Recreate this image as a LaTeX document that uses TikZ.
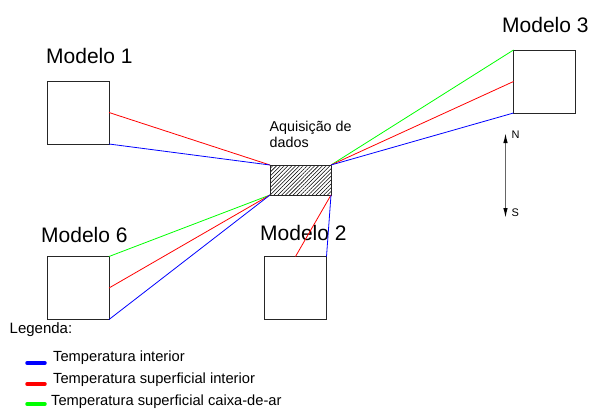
\documentclass[tikz,border=0pt]{standalone}
\usepackage{fontspec}
\setmainfont{Liberation Sans}
\usetikzlibrary{patterns.meta,arrows.meta}
\begin{document}
\begin{tikzpicture}[x=1pt,y=-1pt,
  box/.style={draw=black!85,line width=1pt,inner sep=0pt,outer sep=0pt,minimum width=62pt,minimum height=63pt},
  big/.style={font=\fontsize{21}{24}\selectfont,inner sep=0pt,anchor=base west},
  small/.style={font=\fontsize{14.7}{16}\selectfont,inner sep=0pt,anchor=base west},
  tiny/.style={font=\fontsize{11}{12}\selectfont,inner sep=0pt,anchor=base west},
  wb/.style={blue,line width=0.8pt},
  wr/.style={red,line width=0.8pt},
  wg/.style={green,line width=0.8pt},
  leg/.style={line width=3.5pt,line cap=round}]
\useasboundingbox (0,0) rectangle (591,408);
% boxes
\node[box] (m1) at (78,112.5) {};
\node[box] (m3) at (544.5,81.5) {};
\node[box] (m6) at (78,288) {};
\node[box] (m2) at (295.5,288) {};
\node[draw=black!85,line width=1pt,inner sep=0pt,outer sep=0pt,minimum width=61pt,minimum height=30pt,
  pattern={Lines[angle=45,distance=2.7pt,line width=0.55pt]}] (aq) at (300.5,180) {};
% labels
\node[big] (l1) at (46,63) {Modelo 1};
\node[big] (l3) at (502,32) {Modelo 3};
\node[big] (l6) at (41,242) {Modelo 6};
\node[big] (l2) at (260,240) {Modelo 2};
\node[small,font=\fontsize{14.3}{16}\selectfont] (la1) at (269.5,131) {Aquisição de};
\node[small,font=\fontsize{14.3}{16}\selectfont] (la2) at (269.5,147) {dados};
% connectors
\draw[wr] (m1.east) -- (aq.north west);
\draw[wb] (m1.south east) -- (aq.north west);
\draw[wg] (m3.north west) -- (aq.north east);
\draw[wr] (m3.west) -- (aq.north east);
\draw[wb] (m3.south west) -- (aq.north east);
\draw[wg] (m6.north east) -- (aq.south west);
\draw[wr] (m6.east) -- (aq.south west);
\draw[wb] (m6.south east) -- (aq.south west);
\draw[wr] (m2.north) -- (aq.south east);
\draw[wb] (m2.north east) -- (aq.south east);
% compass
\coordinate (cn) at (505.5,133);
\coordinate (cs) at (505.5,218);
\draw[black!60,line width=1.2pt,{Latex[length=10pt,width=4.5pt,black]}-{Latex[length=10pt,width=4.5pt,black]}] (cs) -- (cn);
\node[tiny] (ln) at (511.5,138) {N};
\node[tiny] (ls) at (511.5,216) {S};
% legend
\node[small,font=\fontsize{15}{16}\selectfont] (lg) at (9.5,333) {Legenda:};
\coordinate (b1) at (27,363); \coordinate (b2) at (45,363);
\coordinate (r1) at (27,384); \coordinate (r2) at (45,384);
\coordinate (g1) at (27,404); \coordinate (g2) at (45,404);
\draw[leg,blue] (b1) -- (b2);
\draw[leg,red] (r1) -- (r2);
\draw[leg,green] (g1) -- (g2);
\node[small] (t1) at (53,361) {Temperatura interior};
\node[small] (t2) at (53,383) {Temperatura superficial interior};
\node[small] (t3) at (51,405.5) {Temperatura superficial caixa-de-ar};
\end{tikzpicture}
\end{document}
